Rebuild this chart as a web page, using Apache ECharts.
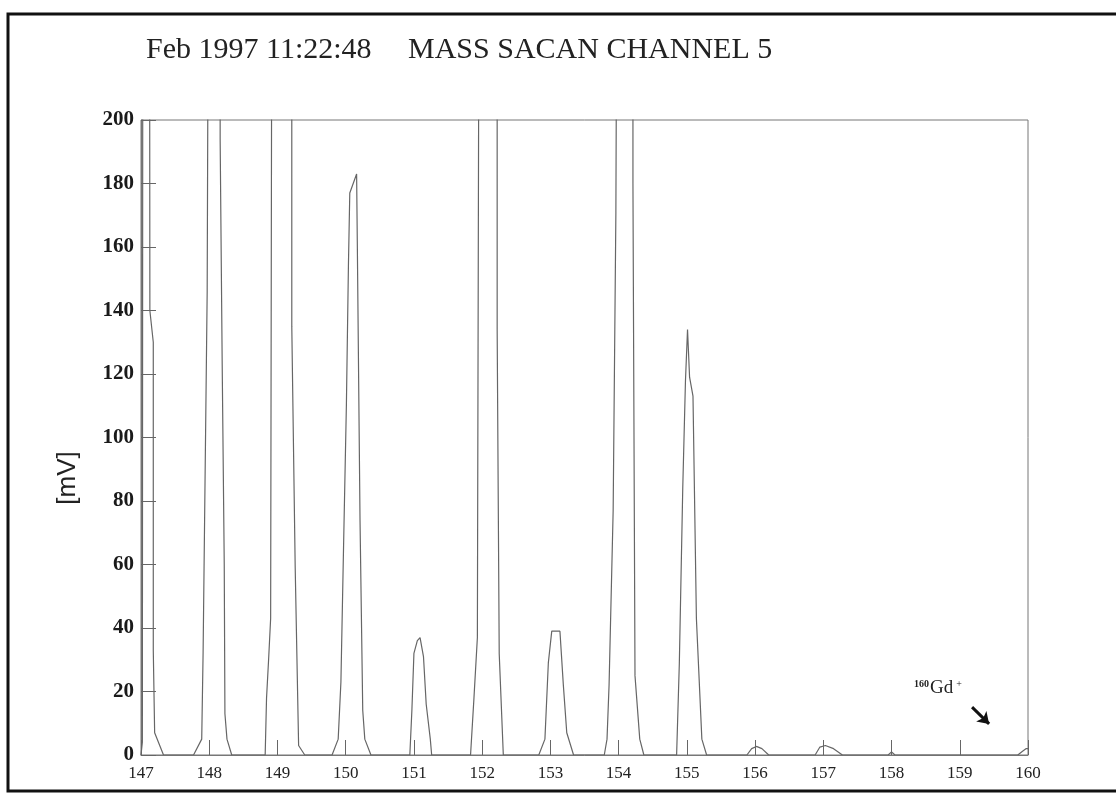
<!DOCTYPE html>
<html>
<head>
<meta charset="utf-8">
<script src="https://cdn.jsdelivr.net/npm/echarts@6/dist/echarts.min.js"></script>
<style>
html,body{margin:0;padding:0;background:#fff;}
#chart{width:1116px;height:794px;}
</style>
</head>
<body>
<div id="chart"></div>
<script>
// ---- data ----
const titleLeft = 'Feb 1997 11:22:48';
const titleRight = 'MASS SACAN CHANNEL 5';
const yAxisName = '[mV]';
const xTicks = [147, 148, 149, 150, 151, 152, 153, 154, 155, 156, 157, 158, 159, 160];
const yTicks = [0, 20, 40, 60, 80, 100, 120, 140, 160, 180, 200];

// mass (amu) of each trace vertex
const massValues = [
  147.00, 147.02, 147.03, 147.12, 147.13, 147.18, 147.18, 147.20, 147.33,
  147.77, 147.89, 147.91, 147.94, 147.97, 148.01, 148.16, 148.16, 148.19, 148.22, 148.23, 148.26, 148.33,
  148.82, 148.84, 148.87, 148.90, 148.93, 149.21, 149.21, 149.26, 149.31, 149.40,
  149.80, 149.89, 149.93, 149.97, 150.01, 150.04, 150.06, 150.11, 150.16, 150.17, 150.21, 150.25, 150.28, 150.37,
  150.94, 150.97, 151.00, 151.05, 151.09, 151.14, 151.18, 151.24, 151.26,
  151.83, 151.88, 151.93, 151.97, 152.22, 152.22, 152.25, 152.31,
  152.83, 152.92, 152.97, 153.02, 153.14, 153.19, 153.24, 153.34,
  153.79, 153.83, 153.86, 153.92, 153.96, 154.00, 154.21, 154.21, 154.24, 154.31, 154.37,
  154.85, 154.89, 154.94, 154.98, 155.01, 155.04, 155.09, 155.14, 155.22, 155.29,
  155.88, 155.95, 156.02, 156.10, 156.20,
  156.88, 156.95, 157.03, 157.15, 157.28,
  157.95, 158.00, 158.05,
  159.85, 159.92, 159.97, 160.00
];
// signal (mV) of each trace vertex; values above 200 run off scale
const signalValues = [
  0, 4, 400, 400, 140, 130, 33, 7, 0,
  0, 5, 32, 89, 146, 400, 400, 194, 123, 60, 13, 5, 0,
  0, 18, 30, 43, 400, 400, 135, 59, 3, 0,
  0, 5, 23, 67, 110, 154, 177, 180, 183, 162, 74, 14, 5, 0,
  0, 14, 32, 36, 37, 31, 16, 5, 0,
  0, 18, 37, 400, 400, 134, 32, 0,
  0, 5, 29, 39, 39, 22, 7, 0,
  0, 5, 22, 77, 171, 400, 400, 180, 25, 5, 0,
  0, 29, 84, 118, 134, 119, 113, 43, 5, 0,
  0, 2, 2.7, 2, 0,
  0, 2.5, 3, 2, 0,
  0, 1, 0,
  0, 1.2, 2, 2
];
// annotation arrow (mass, mV)
const arrowStart = [159.18, 15.1];
const arrowEnd = [159.43, 9.8];

const traceData = massValues.map((m, i) => [m, signalValues[i]]);

const serif = '"Liberation Serif", "DejaVu Serif", serif';
const sans = '"Liberation Sans", Arial, sans-serif';

const chart = echarts.init(document.getElementById('chart'), null, {renderer: 'canvas'});
chart.setOption({
  animation: false,
  backgroundColor: '#ffffff',
  grid: {left: 141, right: 88, top: 120, bottom: 39, show: true, borderColor: '#777', borderWidth: 1, backgroundColor: 'transparent'},
  xAxis: {
    type: 'value', min: xTicks[0], max: xTicks[xTicks.length - 1], interval: 1,
    axisLine: {show: true, lineStyle: {color: '#777', width: 1}},
    axisTick: {show: true, inside: true, length: 15, lineStyle: {color: '#666', width: 1}},
    axisLabel: {color: '#222', fontFamily: serif, fontSize: 17, margin: 10},
    splitLine: {show: false}
  },
  yAxis: {
    type: 'value', min: yTicks[0], max: yTicks[yTicks.length - 1], interval: 20,
    axisLine: {show: true, lineStyle: {color: '#777', width: 1}},
    axisTick: {show: true, inside: true, length: 15, lineStyle: {color: '#666', width: 1}},
    axisLabel: {color: '#1a1a1a', fontFamily: serif, fontSize: 21, fontWeight: 'bold', margin: 7},
    splitLine: {show: false}
  },
  series: [{
    type: 'line',
    data: traceData,
    symbol: 'none',
    clip: true,
    lineStyle: {color: '#666', width: 1.2},
    markLine: {
      silent: true,
      symbol: ['none', 'arrow'],
      symbolSize: 11,
      label: {show: false},
      lineStyle: {color: '#111', width: 3, type: 'solid'},
      data: [[{coord: arrowStart}, {coord: arrowEnd}]]
    }
  }],
  graphic: [
    {type: 'polyline', silent: true, shape: {points: [[1116, 14], [8, 14], [8, 791], [1116, 791]]},
     style: {stroke: '#111', lineWidth: 3, fill: null}},
    {type: 'text', silent: true, x: 146, y: 50,
     style: {text: titleLeft, font: '30px ' + serif, fill: '#222', verticalAlign: 'middle', align: 'left'}},
    {type: 'text', silent: true, x: 408, y: 50,
     style: {text: titleRight, font: '30px ' + serif, fill: '#222', verticalAlign: 'middle', align: 'left'}},
    {type: 'text', silent: true, x: 68, y: 478, rotation: Math.PI / 2,
     style: {text: yAxisName, font: '26px ' + sans, fill: '#222', verticalAlign: 'middle', align: 'center'}},
    {type: 'text', silent: true, x: 914, y: 688,
     style: {
       text: '{s|160}{g|Gd}{p|+}',
       verticalAlign: 'middle', align: 'left',
       rich: {
         s: {fontFamily: serif, fontSize: 10, fontWeight: 'bold', fill: '#222', padding: [0, 1, 8, 0]},
         g: {fontFamily: serif, fontSize: 19, fill: '#222'},
         p: {fontFamily: serif, fontSize: 10, fill: '#222', padding: [0, 0, 8, 3]}
       }
     }}
  ]
});
</script>
</body>
</html>
